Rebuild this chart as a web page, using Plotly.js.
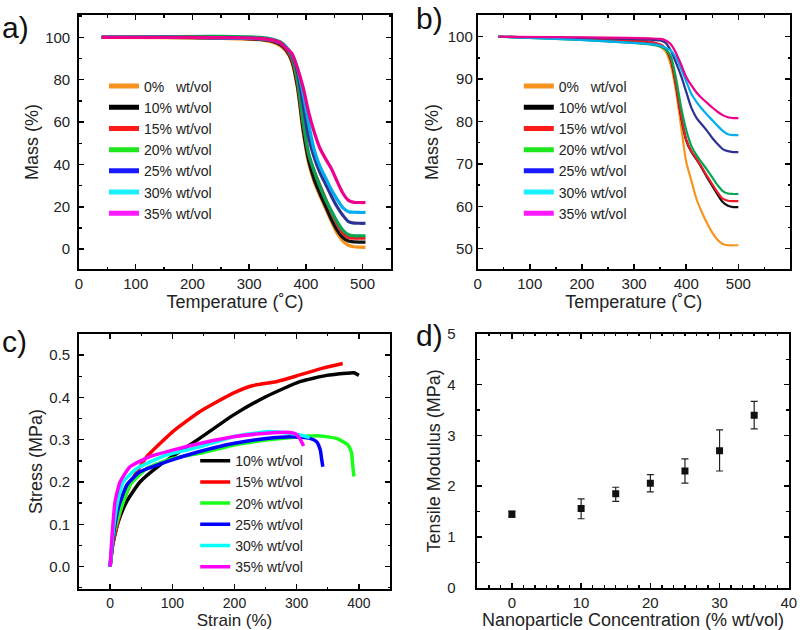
<!DOCTYPE html>
<html><head><meta charset="utf-8">
<script src="https://cdn.plot.ly/plotly-3.0.1.min.js"></script>
<style>html,body{margin:0;padding:0;background:#fff}#chart{width:800px;height:630px}</style>
</head><body><div id="chart"></div>
<script>
// ---------- DATA ----------
const seriesNames = ['0%\u00a0\u00a0\u00a0wt/vol','10% wt/vol','15% wt/vol','20% wt/vol','25% wt/vol','30% wt/vol','35% wt/vol'];

// Panel a (TGA, mass % vs temperature)
const tempA = [40,150,250,320,340,355,365,375,385,395,405,415,425,435,445,455,465,475,485,495,505];
const massA_0  = [100,99.9,99.5,98.8,97.8,96,93.5,88.5,76,55.5,40.5,31.5,25,19,13,7.5,3.8,1.8,1.1,0.9,0.8];
const massA_10 = [100,100,99.7,99,98.2,96.5,94,89,77,56.5,41.5,32.5,26,20,14,9,5.5,3.8,3.4,3.3,3.3];
const massA_15 = [100,100,99.8,99.2,98.4,97,94.5,90,79,59.5,44.5,36.5,30,23.5,17.5,12,7.5,5.5,5.2,5.2,5.2];
const massA_20 = [100,100.4,100.5,100,99.2,97.8,95.5,91,80,60.5,45,36.5,29.5,23.2,18,13,9,6.8,6.3,6.3,6.3];
const massA_25 = [100,100,99.8,99.3,98.6,97.2,95,91.5,84,68.5,52.5,43,36,30.5,25,20,16,13,12.3,12.2,12.2];
const massA_30 = [100,100,99.8,99.4,98.8,97.5,95.5,92,85.5,73.5,59,46.5,39,33.5,28,23.5,19.6,17.7,17.4,17.3,17.3];
const massA_35 = [100,100,99.9,99.5,98.8,97.5,95,92.5,85.5,76.5,64.5,55,47.5,42.5,38,32,26.5,23,22.1,22,22];

// Panel b (TGA, mass % vs temperature)
const tempB = [40,150,250,330,350,360,370,380,390,400,410,420,430,440,450,460,470,480,490,500];
const massB_0  = [100,99.7,99.2,98.5,97.6,96.6,93.5,87.5,79,70.5,66,61.6,58.6,56,53.8,52.1,51.1,50.8,50.8,50.8];
const massB_10 = [100,99.7,99.3,98.7,98.1,97.2,94.8,88.8,81.2,75.5,72.8,71,69,66.8,64.8,62.8,61,60.1,59.8,59.8];
const massB_15 = [100,99.7,99.3,98.8,98.2,97.3,95,89,81.5,75.8,73,71.2,69.2,67.1,65.2,63.3,61.8,61.3,61.2,61.2];
const massB_20 = [100,99.5,98.9,98.2,97.7,97.1,95.5,90.5,83.5,78,74.2,72,70.3,68.6,66.8,65,63.6,63,62.9,62.9];
const massB_25 = [100,99.8,99.6,99.3,99.1,98.6,96.8,94,90.8,87,83.2,80.8,79.3,77.8,76.1,74.7,73.5,73,72.8,72.8];
const massB_30 = [100,99.5,98.9,98.3,97.9,97.4,96.8,95.2,92.5,89.5,86.5,84.6,83,81.6,80.3,79,77.8,77,76.8,76.8];
const massB_35 = [100,99.9,99.8,99.6,99.5,99.2,98.3,96.3,93.5,90.5,88.5,86.8,85.5,84.4,83.3,82.3,81.5,81,80.8,80.8];

// Panel c (stress-strain)
const strainC_10 = [0,4,10,16,27,48,80,112,144,198,251,305,348,380,392,400];
const stressC_10 = [0,0.05,0.09,0.118,0.155,0.2,0.24,0.272,0.303,0.358,0.402,0.437,0.452,0.457,0.458,0.452];
const strainC_15 = [0,4,10,21,37,48,59,100,144,198,230,267,305,342,374];
const stressC_15 = [0,0.05,0.09,0.154,0.209,0.236,0.26,0.318,0.366,0.41,0.428,0.437,0.453,0.469,0.48];
const strainC_20 = [0,4,10,16,32,59,102,144,198,251,305,337,364,382,388,390,392];
const stressC_20 = [0,0.06,0.1,0.13,0.193,0.232,0.256,0.268,0.287,0.299,0.307,0.309,0.303,0.288,0.27,0.24,0.213];
const strainC_25 = [0,4,13,27,48,91,144,198,251,294,321,332,338,340,342];
const stressC_25 = [0,0.06,0.138,0.193,0.224,0.248,0.272,0.291,0.303,0.307,0.303,0.295,0.275,0.255,0.236];
const strainC_30 = [0,4,11,21,43,91,144,198,251,278,305,321];
const stressC_30 = [0,0.07,0.146,0.2,0.232,0.264,0.283,0.307,0.319,0.317,0.311,0.305];
const strainC_35 = [0,3,8,16,32,64,102,144,198,251,289,299,306,311];
const stressC_35 = [0,0.07,0.154,0.2,0.236,0.26,0.276,0.291,0.307,0.315,0.317,0.313,0.3,0.285];

// Panel d (tensile modulus)
const concD = [0,10,15,20,25,30,35];
const modulusD = [1.45,1.56,1.85,2.06,2.30,2.70,3.40];
const errUpD = [0.06,0.19,0.13,0.17,0.24,0.41,0.27];
const errDnD = [0.06,0.20,0.15,0.17,0.24,0.40,0.27];

// ---------- STYLE ----------
const lineColsAB = ['#f7941d','#111111','#ed1c24','#00a651','#2e3191','#00aeef','#ec008c'];
const legendColsAB = ['#f7931e','#000000','#ff1a1a','#1ee61e','#1a1aff','#1af0ff','#ff1aff'];
const lineColsC = ['#000000','#ff0000','#1aff1a','#0000ff','#00ffff','#ff00ff'];

const massA = [massA_0,massA_10,massA_15,massA_20,massA_25,massA_30,massA_35];
const massB = [massB_0,massB_10,massB_15,massB_20,massB_25,massB_30,massB_35];
const strainC = [strainC_10,strainC_15,strainC_20,strainC_25,strainC_30,strainC_35];
const stressC = [stressC_10,stressC_15,stressC_20,stressC_25,stressC_30,stressC_35];

const traces = [];
massA.forEach((m,i)=>traces.push({x:tempA,y:m,xaxis:'x',yaxis:'y',mode:'lines',showlegend:false,
  line:{color:lineColsAB[i],width:3.2,shape:'spline',smoothing:0.8},hoverinfo:'skip'}));
seriesNames.forEach((n,i)=>traces.push({x:[null],y:[null],xaxis:'x',yaxis:'y',mode:'lines',name:n,legend:'legend',
  line:{color:legendColsAB[i],width:5}}));
massB.forEach((m,i)=>traces.push({x:tempB,y:m,xaxis:'x2',yaxis:'y2',mode:'lines',showlegend:false,
  line:{color:lineColsAB[i],width:2.2,shape:'spline',smoothing:0.8},hoverinfo:'skip'}));
seriesNames.forEach((n,i)=>traces.push({x:[null],y:[null],xaxis:'x2',yaxis:'y2',mode:'lines',name:n,legend:'legend2',
  line:{color:legendColsAB[i],width:5}}));
strainC.forEach((s,i)=>traces.push({x:s,y:stressC[i],xaxis:'x3',yaxis:'y3',mode:'lines',name:seriesNames[i+1],legend:'legend3',
  line:{color:lineColsC[i],width:3.5,shape:'spline',smoothing:0.5}}));
traces.push({x:concD,y:modulusD,xaxis:'x4',yaxis:'y4',mode:'markers',showlegend:false,
  marker:{symbol:'square',size:7,color:'#111'},
  error_y:{type:'data',symmetric:false,array:errUpD,arrayminus:errDnD,thickness:1.2,width:3.5,color:'#222'}});

const fontTick = {family:'Liberation Sans, Arial, sans-serif',size:15,color:'#222'};
const fontTitle = {family:'Liberation Sans, Arial, sans-serif',size:18,color:'#222'};
function ax(o){
  return Object.assign({showline:true,linecolor:'#000',linewidth:1.8,mirror:'ticks',ticks:'inside',ticklen:5,tickwidth:1.5,
    tickcolor:'#000',showgrid:false,zeroline:false,tickfont:fontTick,automargin:false,fixedrange:true},o);
}
function minor(d){return {dtick:d,ticks:'inside',ticklen:2.5,tickwidth:1.4,tickcolor:'#000',showgrid:false};}

const legBase = {bgcolor:'rgba(0,0,0,0)',borderwidth:0,font:{family:'Liberation Sans, Arial, sans-serif',size:14,color:'#222'},
  yanchor:'middle',xanchor:'left'};

const layout = {
  width:800,height:630,margin:{l:0,r:0,t:0,b:0},paper_bgcolor:'#fff',plot_bgcolor:'#fff',
  showlegend:true,
  xaxis: ax({domain:[0.09875,0.48875],range:[0,550],dtick:100,tick0:0,minor:minor(50),anchor:'y',
    title:{text:'Temperature (\u02daC)',font:fontTitle,standoff:3}}),
  yaxis: ax({domain:[0.573,0.976],range:[-9.4,110.5],dtick:20,tick0:0,minor:minor(10),anchor:'x',ticklabelstandoff:4,
    title:{text:'Mass (%)',font:fontTitle,standoff:2}}),
  xaxis2: ax({domain:[0.597,0.9875],range:[0,599],dtick:100,tick0:0,minor:minor(50),anchor:'y2',
    title:{text:'Temperature (\u02daC)',font:fontTitle,standoff:3}}),
  yaxis2: ax({domain:[0.573,0.976],range:[45.2,105.1],dtick:10,tick0:0,minor:minor(5),anchor:'x2',
    title:{text:'Mass (%)',font:fontTitle,standoff:4}}),
  xaxis3: ax({domain:[0.09875,0.4875],range:[-50,450],dtick:100,tick0:0,minor:minor(50),anchor:'y3',
    tickfont:{...fontTick,size:14},
    title:{text:'Strain (%)',font:{...fontTitle,size:17},standoff:2}}),
  yaxis3: ax({domain:[0.065,0.470],range:[-0.053,0.55],dtick:0.1,tick0:0,tickformat:'.1f',minor:minor(0.05),anchor:'x3',ticklabelstandoff:4,
    title:{text:'Stress (MPa)',font:fontTitle,standoff:2}}),
  xaxis4: ax({domain:[0.5966,0.986],range:[-5,40],dtick:10,tick0:0,minor:minor(10/6),anchor:'y4',
    title:{text:'Nanoparticle Concentration (% wt/vol)',font:fontTitle,standoff:5}}),
  yaxis4: ax({domain:[0.067,0.470],range:[0,5],dtick:1,tick0:0,minor:minor(0.5),anchor:'x4',ticklabelstandoff:17,
    title:{text:'Tensile Modulus (MPa)',font:fontTitle,standoff:2}}),
  legend: Object.assign({},legBase,{x:0.13,y:0.762}),
  legend2: Object.assign({},legBase,{x:0.6485,y:0.762}),
  legend3: Object.assign({},legBase,{x:0.244,y:0.184}),
  annotations:[
    {text:'a)',xref:'paper',yref:'paper',x:0.0,y:0.985,xanchor:'left',yanchor:'top',showarrow:false,font:{family:'Liberation Sans, Arial',size:30,color:'#111'}},
    {text:'b)',xref:'paper',yref:'paper',x:0.517,y:1.0,xanchor:'left',yanchor:'top',showarrow:false,font:{family:'Liberation Sans, Arial',size:30,color:'#111'}},
    {text:'c)',xref:'paper',yref:'paper',x:0.0,y:0.487,xanchor:'left',yanchor:'top',showarrow:false,font:{family:'Liberation Sans, Arial',size:30,color:'#111'}},
    {text:'d)',xref:'paper',yref:'paper',x:0.517,y:0.497,xanchor:'left',yanchor:'top',showarrow:false,font:{family:'Liberation Sans, Arial',size:30,color:'#111'}}
  ]
};
Plotly.newPlot('chart',traces,layout,{staticPlot:true,displayModeBar:false});
</script>
</body></html>
